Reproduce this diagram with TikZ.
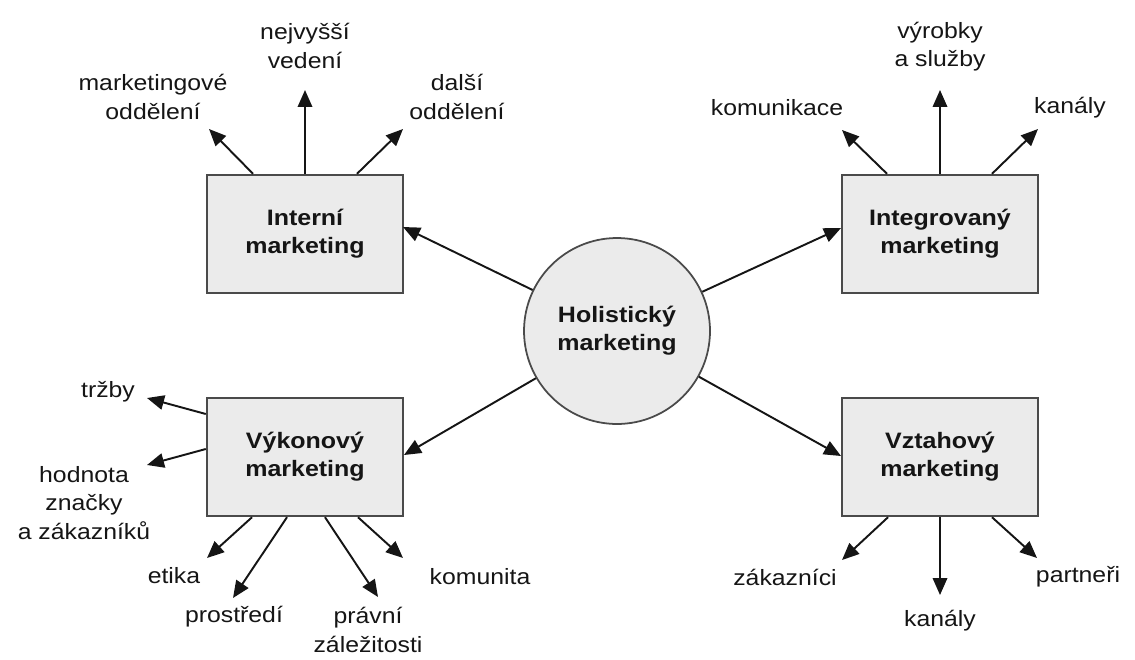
\documentclass[tikz,border=0pt]{standalone}
\usepackage{fontspec}
\setmainfont{Liberation Sans}[FakeStretch=1.12]
\usetikzlibrary{arrows.meta,calc}
\definecolor{boxfill}{HTML}{EBEBEB}
\definecolor{boxline}{HTML}{4A4A4A}
\definecolor{ink}{HTML}{151515}
\begin{document}
\begin{tikzpicture}[x=0.02cm,y=-0.02cm,
  every node/.style={inner sep=0pt, text=ink},
  box/.style={draw=boxline, fill=boxfill, line width=1.4pt, minimum width=3.92cm,
    minimum height=2.36cm, align=center, font=\fontsize{12.7}{16}\selectfont\bfseries},
  hub/.style={circle, draw=boxline, fill=boxfill, line width=1pt, minimum size=3.72cm,
    align=center, font=\fontsize{12.7}{16}\selectfont\bfseries},
  lbl/.style={align=center, font=\fontsize{12.6}{16}\selectfont},
  arr/.style={-{Triangle[length=0.34cm,width=0.29cm]}, line width=1.1pt, draw=ink}
]
\useasboundingbox (0,0) rectangle (1135,659);

% hub and the four areas
\node[hub] (hol) at (617,331) {Holistický\\marketing};
\node[box] (int) at (305,234) {Interní\\marketing};
\node[box] (itg) at (940,234) {Integrovaný\\marketing};
\node[box] (vyk) at (305,457) {Výkonový\\marketing};
\node[box] (vzt) at (940,457) {Vztahový\\marketing};

% hub to areas
\coordinate (tInt) at (403,227);
\coordinate (tItg) at (841,228);
\coordinate (tVyk) at (404,455);
\coordinate (tVzt) at (841,456);
\draw[arr] (hol) -- (tInt);
\draw[arr] (hol) -- (tItg);
\draw[arr] (hol) -- (tVyk);
\draw[arr] (hol) -- (tVzt);

% internal marketing
\coordinate (iA) at (209,129);
\coordinate (iB) at (305,90);
\coordinate (iC) at (403,129);
\draw[arr] ($(int.north)+(-52,0)$) -- (iA);
\draw[arr] (int.north) -- (iB);
\draw[arr] ($(int.north)+(52,0)$) -- (iC);
\node[lbl] (lMkt) at (153,97) {marketingové\\oddělení};
\node[lbl] (lTop) at (305,46) {nejvyšší\\vedení};
\node[lbl] (lDal) at (457,97) {další\\oddělení};

% integrated marketing
\coordinate (gA) at (842,130);
\coordinate (gB) at (940,90);
\coordinate (gC) at (1038,129);
\draw[arr] ($(itg.north)+(-53,0)$) -- (gA);
\draw[arr] (itg.north) -- (gB);
\draw[arr] ($(itg.north)+(52,0)$) -- (gC);
\node[lbl] (lKom) at (777,108) {komunikace};
\node[lbl] (lVyr) at (940,47) {výrobky\\a služby};
\node[lbl] (lKan) at (1070,108) {kanály};

% performance marketing
\coordinate (pA) at (147,398);
\coordinate (pB) at (147,465);
\coordinate (pC) at (207,558);
\coordinate (pD) at (233,598);
\coordinate (pE) at (378,597);
\coordinate (pF) at (403,558);
\draw[arr] ($(vyk.west)+(0,-43)$) -- (pA);
\draw[arr] ($(vyk.west)+(0,-8)$) -- (pB);
\draw[arr] ($(vyk.south)+(-53,0)$) -- (pC);
\draw[arr] ($(vyk.south)+(-18,0)$) -- (pD);
\draw[arr] ($(vyk.south)+(20,0)$) -- (pE);
\draw[arr] ($(vyk.south)+(53,0)$) -- (pF);
\node[lbl] (lTrz) at (108,392) {tržby};
\node[lbl] (lHod) at (84,503) {hodnota\\značky\\a zákazníků};
\node[lbl] (lEti) at (174,576) {etika};
\node[lbl] (lPro) at (234,617) {prostředí};
\node[lbl] (lPra) at (368,630) {právní\\záležitosti};
\node[lbl] (lKomu) at (480,577) {komunita};

% relationship marketing
\coordinate (rA) at (842,560);
\coordinate (rB) at (940,595);
\coordinate (rC) at (1037,558);
\draw[arr] ($(vzt.south)+(-52,0)$) -- (rA);
\draw[arr] (vzt.south) -- (rB);
\draw[arr] ($(vzt.south)+(52,0)$) -- (rC);
\node[lbl] (lZak) at (785,577) {zákazníci};
\node[lbl] (lKan2) at (940,621) {kanály};
\node[lbl] (lPar) at (1078,577) {partneři};
\end{tikzpicture}
\end{document}
